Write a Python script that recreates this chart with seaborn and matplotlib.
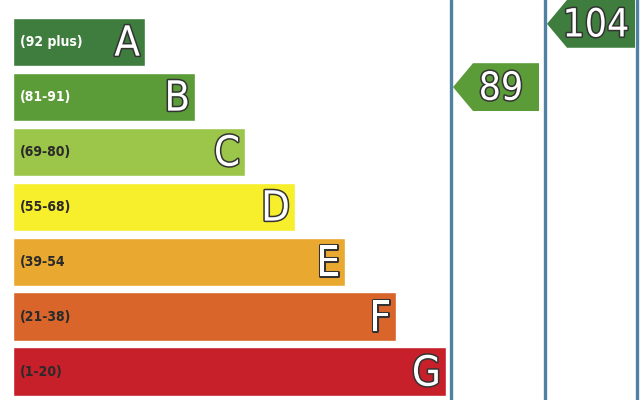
import numpy as np
import pandas as pd
import matplotlib
matplotlib.use("Agg")
import matplotlib.pyplot as plt
import matplotlib.patheffects as pe
from matplotlib.patches import Polygon
import seaborn as sns

# Energy rating bands
bands = ["A", "B", "C", "D", "E", "F", "G"]
ranges = ["(92 plus)", "(81-91)", "(69-80)", "(55-68)", "(39-54", "(21-38)", "(1-20)"]
bar_length = [132, 182, 232, 282, 332, 383, 433]
colors = ["#3e7d3e", "#5b9b38", "#9cc64a", "#f7ee2c", "#e9a830", "#d9652b", "#c8202b"]
range_text_colors = ["white", "white", "#2a2a2a", "#2a2a2a", "#2a2a2a", "#2a2a2a", "#2a2a2a"]

# Current / potential ratings
scores = [89, 104]
score_colors = ["#5b9b38", "#3e7d3e"]
column_edges = [438, 532, 624]

df = pd.DataFrame({"band": bands, "length": bar_length})

sns.set_theme(style="white")
plt.rcParams["font.family"] = ["DejaVu Sans"]

fig = plt.figure(figsize=(6.4, 4.0), dpi=100)
ax = fig.add_axes([0, 0, 1, 1])

sns.barplot(data=df, x="length", y="band", hue="band", palette=colors,
            orient="h", width=0.89, legend=False, ax=ax, saturation=1)

outline = [pe.withStroke(linewidth=2.2, foreground="#333333")]

for i, (b, r, L) in enumerate(zip(bands, ranges, bar_length)):
    ax.text(7, i, r, ha="left", va="center", fontsize=10, fontweight="bold",
            fontstretch="condensed", color=range_text_colors[i])
    ax.text(L - 5, i + 0.03, b, ha="right", va="center", fontsize=30,
            fontstretch="condensed", color="white", path_effects=outline)

# column separator lines
for xe in column_edges:
    ax.axvline(xe, color="#4f81a3", lw=2.4)


def score_to_y(s):
    # linear placement of a score on the band axis
    return 0.82 + (89 - s) * 0.0767


h = 0.87
tip = 20
for k, (s, c) in enumerate(zip(scores, score_colors)):
    x0 = column_edges[k] + 2
    x1 = column_edges[k + 1] - (6 if k == 0 else 2)
    y = score_to_y(s)
    poly = Polygon([[x0, y], [x0 + tip, y - h / 2], [x1, y - h / 2],
                    [x1, y + h / 2], [x0 + tip, y + h / 2]],
                   closed=True, facecolor=c, edgecolor="none", zorder=3)
    ax.add_patch(poly)
    ax.text((x0 + tip + x1) / 2 - 5, y + 0.03, str(s), ha="center", va="center",
            fontsize=28, fontstretch="condensed", color="white",
            path_effects=outline, zorder=4)

ax.set_xlim(-13, 627)
ax.set_ylim(6.51, -0.764)
ax.axis("off")

fig.savefig("out.png", dpi=100)
